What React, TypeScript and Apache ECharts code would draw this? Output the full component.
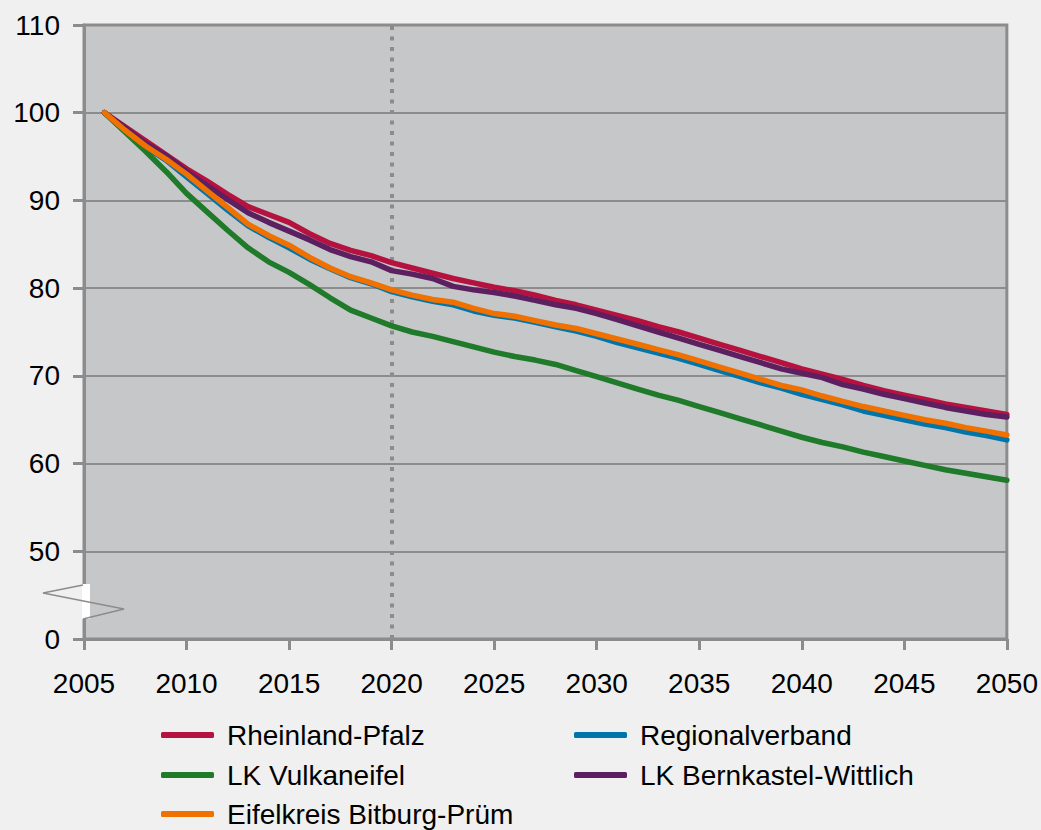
import React, { useEffect, useRef } from "react";
import * as echarts from "echarts";

const years: number[] = [
  2006, 2007, 2008, 2009, 2010, 2011, 2012, 2013, 2014, 2015,
  2016, 2017, 2018, 2019, 2020, 2021, 2022, 2023, 2024, 2025,
  2026, 2027, 2028, 2029, 2030, 2031, 2032, 2033, 2034, 2035,
  2036, 2037, 2038, 2039, 2040, 2041, 2042, 2043, 2044, 2045,
  2046, 2047, 2048, 2049, 2050,
];

const rheinlandPfalz: number[] = [
  100, 98.4, 96.8, 95.2, 93.6, 92.2, 90.7, 89.3, 88.4, 87.5,
  86.2, 85.1, 84.3, 83.7, 82.9, 82.3, 81.7, 81.1, 80.6, 80.1,
  79.7, 79.2, 78.6, 78.1, 77.5, 76.9, 76.3, 75.6, 75.0, 74.3,
  73.6, 72.9, 72.2, 71.5, 70.8, 70.2, 69.6, 68.9, 68.3, 67.8,
  67.3, 66.8, 66.4, 66.0, 65.6,
];

const regionalverband: number[] = [
  100, 97.9, 96.1, 94.6, 92.7, 90.8, 88.9, 87.1, 85.8, 84.6,
  83.3, 82.2, 81.2, 80.5, 79.6, 79.0, 78.5, 78.1, 77.4, 76.9,
  76.6, 76.1, 75.6, 75.1, 74.5, 73.8, 73.2, 72.6, 72.0, 71.3,
  70.6, 69.9, 69.2, 68.6, 67.9, 67.3, 66.7, 66.0, 65.5, 65.0,
  64.5, 64.1, 63.6, 63.2, 62.7,
];

const vulkaneifel: number[] = [
  100, 97.8, 95.6, 93.3, 90.8, 88.7, 86.6, 84.6, 83.0, 81.8,
  80.4, 78.9, 77.5, 76.6, 75.7, 75.0, 74.5, 73.9, 73.3, 72.7,
  72.2, 71.8, 71.3, 70.6, 69.9, 69.2, 68.5, 67.8, 67.2, 66.5,
  65.8, 65.1, 64.4, 63.7, 63.0, 62.4, 61.9, 61.3, 60.8, 60.3,
  59.8, 59.3, 58.9, 58.5, 58.1,
];

const bernkastelWittlich: number[] = [
  100, 98.3, 96.5, 95.1, 93.3, 91.7, 90.1, 88.6, 87.5, 86.5,
  85.5, 84.4, 83.6, 83.0, 82.0, 81.6, 81.1, 80.2, 79.8, 79.5,
  79.1, 78.6, 78.1, 77.7, 77.1, 76.4, 75.7, 75.0, 74.3, 73.6,
  72.9, 72.2, 71.5, 70.8, 70.3, 69.8, 69.0, 68.5, 67.9, 67.4,
  66.9, 66.4, 66.0, 65.6, 65.3,
];

const bitburgPruem: number[] = [
  100, 98.0, 96.2, 94.7, 93.0, 91.1, 89.2, 87.3, 86.0, 84.9,
  83.5, 82.3, 81.3, 80.6, 79.8, 79.2, 78.7, 78.4, 77.7, 77.1,
  76.8, 76.3, 75.8, 75.4, 74.8, 74.2, 73.6, 73.0, 72.4, 71.7,
  71.0, 70.3, 69.6, 68.9, 68.4, 67.7, 67.1, 66.5, 66.0, 65.5,
  65.0, 64.6, 64.1, 63.7, 63.25,
];

const seriesNames: string[] = [
  "Rheinland-Pfalz",
  "Regionalverband",
  "LK Vulkaneifel",
  "LK Bernkastel-Wittlich",
  "Eifelkreis Bitburg-Prüm",
];
const seriesValues: number[][] = [
  rheinlandPfalz,
  regionalverband,
  vulkaneifel,
  bernkastelWittlich,
  bitburgPruem,
];
const seriesColors: string[] = ["#b5123f", "#0075aa", "#1f7a2a", "#5c1f60", "#f07000"];

const markYear = 2020;

const FONT = "'Liberation Sans', Arial, sans-serif";
const AXIS_COLOR = "#8c8c8c";

// legend slot per series: [left, top]
const legendSlots: number[][] = [
  [161, 721],
  [574, 721],
  [161, 761],
  [574, 761],
  [161, 800],
];

export default function App() {
  const ref = useRef<HTMLDivElement>(null);

  useEffect(() => {
    document.body.style.margin = "0";
    if (!ref.current) return;
    const chart = echarts.init(ref.current, undefined, { renderer: "svg" });

    const series = seriesNames.map((name, i) => ({
      name,
      type: "line",
      data: years.map((y, k) => [y, seriesValues[i][k]]),
      showSymbol: false,
      symbol: "none",
      lineStyle: { color: seriesColors[i], width: 5.5, cap: "round", join: "round" },
      itemStyle: { color: seriesColors[i] },
      z: 3 + i,
      ...(i === 0
        ? {
            markLine: {
              silent: true,
              symbol: "none",
              label: { show: false },
              lineStyle: { color: AXIS_COLOR, width: 4, type: [4, 6.5] },
              data: [{ xAxis: markYear }],
              z: 2,
            },
          }
        : {}),
    }));

    const legendText = {
      fontFamily: FONT,
      fontSize: 28,
      color: "#000",
      lineHeight: 28,
      padding: [0, 0, 0, 8],
    };

    const legends = seriesNames.map((name, i) => ({
      data: [name],
      orient: "horizontal",
      left: legendSlots[i][0],
      top: legendSlots[i][1],
      padding: 0,
      itemWidth: 53,
      itemHeight: 6,
      icon: "roundRect",
      textStyle: legendText,
    }));

    chart.setOption({
      animation: false,
      backgroundColor: "#eff0ef",
      grid: {
        left: 84,
        right: 34,
        top: 25,
        bottom: 191,
        show: true,
        backgroundColor: "#c6c7c9",
        borderColor: AXIS_COLOR,
        borderWidth: 3,
      },
      xAxis: {
        type: "value",
        min: 2005,
        max: 2050,
        interval: 5,
        axisLine: { show: true, lineStyle: { color: AXIS_COLOR, width: 3 } },
        axisTick: { show: true, length: 11, lineStyle: { color: AXIS_COLOR, width: 3 } },
        axisLabel: {
          margin: 30,
          fontFamily: FONT,
          fontSize: 28,
          color: "#000",
          formatter: (v: number) => String(v),
        },
        splitLine: { show: false },
      },
      yAxis: {
        type: "value",
        min: 40,
        max: 110,
        interval: 10,
        axisLine: { show: true, lineStyle: { color: AXIS_COLOR, width: 3 } },
        axisTick: { show: true, length: 11, lineStyle: { color: AXIS_COLOR, width: 3 } },
        axisLabel: {
          margin: 24,
          fontFamily: FONT,
          fontSize: 28,
          color: "#000",
          formatter: (v: number) => (v === 40 ? "0" : String(v)),
        },
        splitLine: { show: true, lineStyle: { color: AXIS_COLOR, width: 2 } },
      },
      legend: legends,
      graphic: [
        {
          type: "rect",
          z: 100,
          shape: { x: 82, y: 584, width: 8, height: 35 },
          style: { fill: "#ffffff" },
        },
        {
          type: "polyline",
          z: 101,
          shape: {
            points: [
              [83, 585],
              [43, 593],
              [124, 609],
              [83, 619],
            ],
          },
          style: { stroke: AXIS_COLOR, lineWidth: 1.5, fill: null },
        },
      ],
      series,
    });

    return () => chart.dispose();
  }, []);

  return <div ref={ref} style={{ width: 1041, height: 830 }} />;
}
